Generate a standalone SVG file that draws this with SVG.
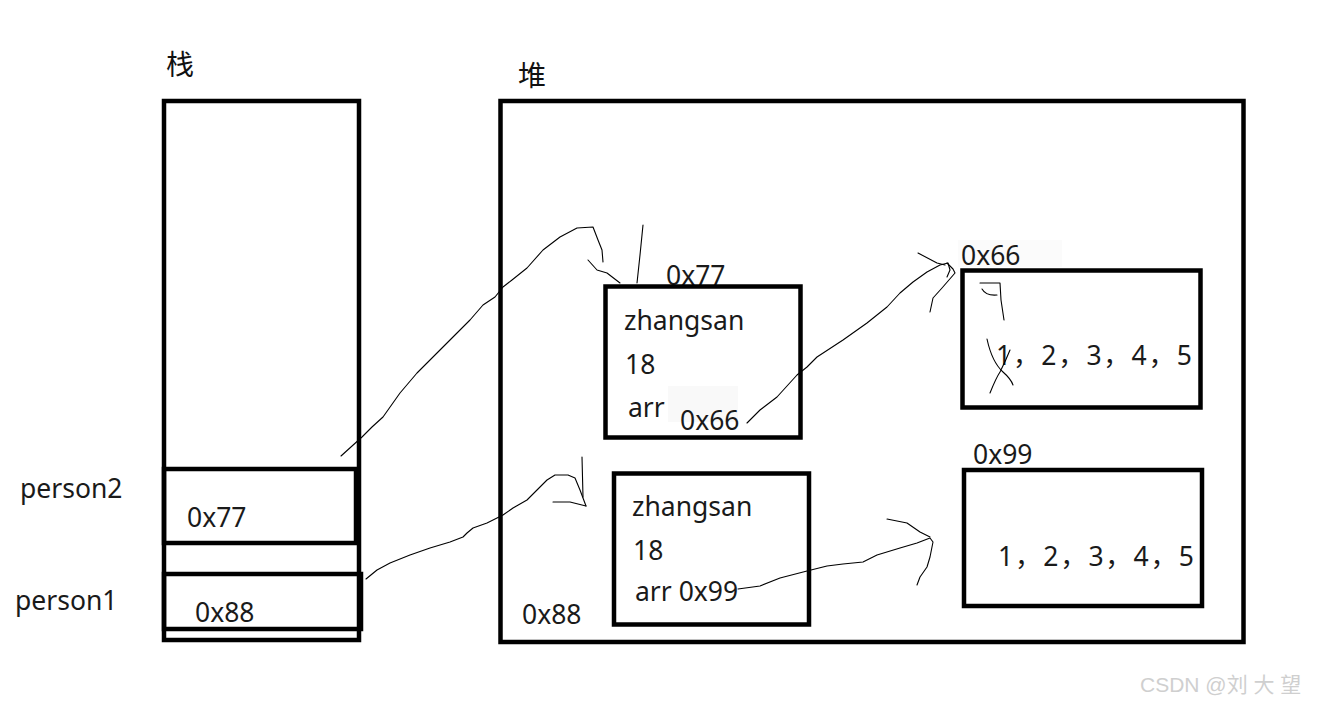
<svg xmlns="http://www.w3.org/2000/svg" width="1330" height="705" viewBox="0 0 1330 705">
<style>
.box{fill:none;stroke:#000;stroke-width:4.5}
.t{font-family:"Noto Sans","Open Sans","Noto Sans CJK SC",sans-serif;font-size:26.5px;fill:#1a1a1a}
.cjk{font-family:"Noto Sans CJK SC","Noto Sans",sans-serif;font-size:28px;fill:#111}
.ink{fill:none;stroke:#000;stroke-width:1.1;stroke-linejoin:round;stroke-linecap:round}
.wm{font-family:"Liberation Sans","Noto Sans CJK SC",sans-serif;font-size:21px;fill:#cfcfcf}
</style>
<rect width="1330" height="705" fill="#fff"/>

<g id="stack">
  <text class="cjk" x="166" y="75">栈</text>
  <rect class="box" x="164" y="101" width="195" height="539"/>
</g>
<g id="person2">
  <text class="t" x="20" y="498">person2</text>
  <rect class="box" x="164" y="469" width="192" height="74"/>
  <text class="t" x="187" y="527">0x77</text>
</g>
<g id="person1">
  <text class="t" x="15" y="610">person1</text>
  <rect class="box" x="164" y="574" width="197" height="55"/>
  <text class="t" x="195" y="622">0x88</text>
</g>

<g id="heap">
  <text class="cjk" x="518" y="86">堆</text>
  <rect class="box" x="500.5" y="101" width="743" height="541"/>
  <text class="t" x="522" y="624">0x88</text>
</g>

<g id="obj77">
  <text class="t" x="666" y="285">0x77</text>
  <rect x="605.5" y="286.5" width="195" height="151" fill="#fff" stroke="none"/>
  <rect x="668" y="386" width="70" height="36" fill="#f9f9f9"/>
  <rect class="box" x="605.5" y="286.5" width="195" height="151"/>
  <text class="t" x="624" y="330">zhangsan</text>
  <text class="t" x="625" y="374">18</text>
  <text class="t" x="628" y="417">arr</text>
  <text class="t" x="680" y="430">0x66</text>
</g>

<g id="obj88">
  <rect class="box" x="614" y="473.5" width="195" height="151"/>
  <text class="t" x="632" y="516">zhangsan</text>
  <text class="t" x="633" y="560">18</text>
  <text class="t" x="635" y="601">arr 0x99</text>
</g>

<g id="arr66">
  <rect x="958" y="240" width="104" height="27" fill="#fbfbfb"/>
  <text class="t" x="961" y="265">0x66</text>
  <rect class="box" x="962.5" y="270.5" width="238" height="137"/>
  <text class="t" x="996" y="365" textLength="196">1，2，3，4，5</text>
</g>

<g id="arr99">
  <text class="t" x="973" y="464">0x99</text>
  <rect class="box" x="964" y="470" width="238" height="136"/>
  <text class="t" x="998" y="566" textLength="196">1，2，3，4，5</text>
</g>

<g id="connectors">
  <path class="ink" d="M341,456 L362,437 L372,427 L383,417 L400,393 L417,373 L427,363 L437,353 L457,333 L470,320 L483,305 L495,297 L503,287 L512,280 L527,268 L543,250 L560,237 L577,228 L593,227 L598,240 L602,250 L603,262"/>
  <path class="ink" d="M588,260 L597,270 L607,273 L620,283"/>
  <path class="ink" d="M643,225 L640,255 L637,283"/>
  <path class="ink" d="M366,579 L377,570 L390,563 L410,555 L430,548 L450,542 L463,537 L467,533 L473,528 L487,523 L503,515 L513,508 L527,500 L537,490 L547,480 L555,475 L568,475 L575,478 L580,490 L586,506"/>
  <path class="ink" d="M553,502 L570,502 L578,504 L586,506"/>
  <path class="ink" d="M582,457 L583,497"/>
  <path class="ink" d="M747,423 L760,410 L777,397 L797,375 L807,367 L817,357 L843,340 L867,323 L887,307 L900,293 L913,282 L927,272 L940,265 L948,263 L950,270 L947,277"/>
  <path class="ink" d="M918,253 L937,263 L945,265"/>
  <path class="ink" d="M930,312 L933,298 L942,288 L955,273 L953,269 L947,263"/>
  <path class="ink" d="M980,283 L1000,283 M982,289 Q986,296 997,295 M1000,283 L1001,300 L1004,320"/>
  <path class="ink" d="M987,339 Q992,362 1003,372 Q1011,379 1013,385 M990,393 Q996,378 1000,372 Q1006,360 1010,350"/>
  <path class="ink" d="M738,589 L760,586 L780,578 L807,571 L827,566 L843,564 L863,562 L877,555 L900,548 L917,543 L930,538 L933,542 L930,557 L927,567 L920,577 L917,585"/>
  <path class="ink" d="M887,519 L907,523 L920,532 L930,537"/>
</g>

<g id="watermark">
  <text class="wm" x="1140" y="692">CSDN @刘 大 望</text>
</g>
</svg>
